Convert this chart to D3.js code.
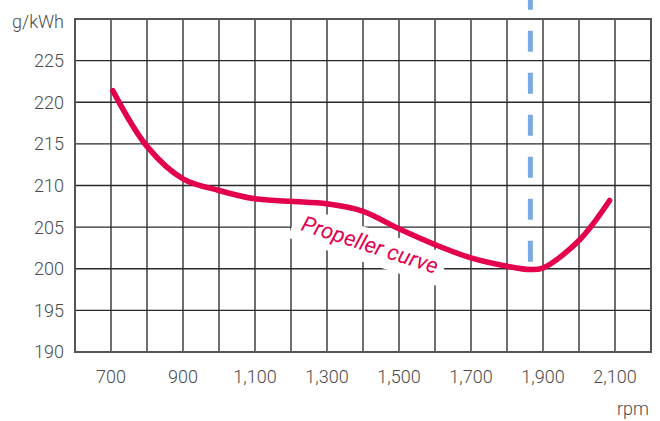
<!DOCTYPE html>
<html>
<head>
<meta charset="utf-8">
<script src="https://cdn.jsdelivr.net/npm/d3@7"></script>
<style>
  body { margin: 0; background: #fff; }
  text { font-family: Roboto, "Liberation Sans", sans-serif; font-weight: 300; fill: #4a4a4a; }
</style>
</head>
<body>
<div id="chart"></div>
<script>
// fuel consumption along the propeller curve
var rpm = [705, 800, 900, 1000, 1100, 1200, 1300, 1400, 1500, 1600, 1700, 1800, 1865, 1900, 2000, 2085];
var consumption = [221.4, 214.7, 210.8, 209.4, 208.4, 208.1, 207.8, 206.9, 204.8, 202.9, 201.3, 200.3, 199.9, 200.1, 203.4, 208.2];
var xTicks = [700, 900, 1100, 1300, 1500, 1700, 1900, 2100];
var yTicks = [190, 195, 200, 205, 210, 215, 220, 225];
var ratedRpm = 1865;
var ratedTop = 200.6;

var width = 660,
    height = 421,
    svg = d3.select('#chart').append('svg')
        .attr('width', width)
        .attr('height', height);

var x = d3.scaleLinear().domain([600, 2200]).range([75, 651]);
var y = d3.scaleLinear().domain([190, 230]).range([352, 19]);

// grid, every 100 rpm and every 5 g/kWh
var grid = svg.append('g');
grid.selectAll('line.v')
    .data(d3.range(700, 2200, 100))
    .enter().append('line')
    .attr('class', 'v')
    .attr('x1', function(d) { return x(d); })
    .attr('x2', function(d) { return x(d); })
    .attr('y1', y(230)).attr('y2', y(190))
    .attr('stroke', '#222').attr('stroke-width', 1.3);
grid.selectAll('line.h')
    .data(d3.range(195, 230, 5))
    .enter().append('line')
    .attr('class', 'h')
    .attr('y1', function(d) { return y(d); })
    .attr('y2', function(d) { return y(d); })
    .attr('x1', x(600)).attr('x2', x(2200))
    .attr('stroke', '#2a2a2a').attr('stroke-width', 1.3);
grid.append('rect')
    .attr('x', x(600)).attr('y', y(230))
    .attr('width', x(2200) - x(600)).attr('height', y(190) - y(230))
    .attr('fill', 'none').attr('stroke', '#555').attr('stroke-width', 2);

// axis labels
svg.selectAll('text.yt')
    .data(yTicks)
    .enter().append('text')
    .attr('class', 'yt')
    .attr('x', 64)
    .attr('y', function(d) { return y(d); })
    .attr('dy', '0.36em')
    .attr('text-anchor', 'end')
    .style('font-size', '18px')
    .text(function(d) { return d; });
svg.append('text')
    .attr('x', 64).attr('y', 28)
    .attr('text-anchor', 'end')
    .style('font-size', '18px')
    .text('g/kWh');

svg.selectAll('text.xt')
    .data(xTicks)
    .enter().append('text')
    .attr('class', 'xt')
    .attr('x', function(d) { return x(d); })
    .attr('y', 383)
    .attr('text-anchor', 'middle')
    .style('font-size', '18px')
    .text(d3.format(','));
svg.append('text')
    .attr('x', 649).attr('y', 415)
    .attr('text-anchor', 'end')
    .style('font-size', '18px')
    .text('rpm');

// label with a white patch under it
var lab = svg.append('g')
    .attr('transform', 'translate(300,230) rotate(18)');
var lt = lab.append('text')
    .style('font-size', '22px')
    .style('font-style', 'italic')
    .style('font-weight', '400')
    .style('fill', '#e2004f')
    .text('Propeller curve');
var bb = lt.node().getBBox();
lab.insert('rect', 'text')
    .attr('x', bb.x - 9).attr('y', bb.y - 3)
    .attr('width', bb.width + 16).attr('height', bb.height + 9)
    .attr('fill', '#fff');

// rated speed marker
svg.append('line')
    .attr('x1', x(ratedRpm)).attr('x2', x(ratedRpm))
    .attr('y1', y(ratedTop) - 2).attr('y2', 0)
    .attr('stroke', '#7aaadf').attr('stroke-width', 5)
    .attr('stroke-dasharray', '21 21');

// curve
var line = d3.line()
    .x(function(d, i) { return x(rpm[i]); })
    .y(function(d) { return y(d); })
    .curve(d3.curveCatmullRom.alpha(0.5));
svg.append('path')
    .datum(consumption)
    .attr('d', line)
    .attr('fill', 'none')
    .attr('stroke', '#e2004f')
    .attr('stroke-width', 5.5)
    .attr('stroke-linecap', 'round')
    .attr('stroke-linejoin', 'round');
</script>
</body>
</html>
